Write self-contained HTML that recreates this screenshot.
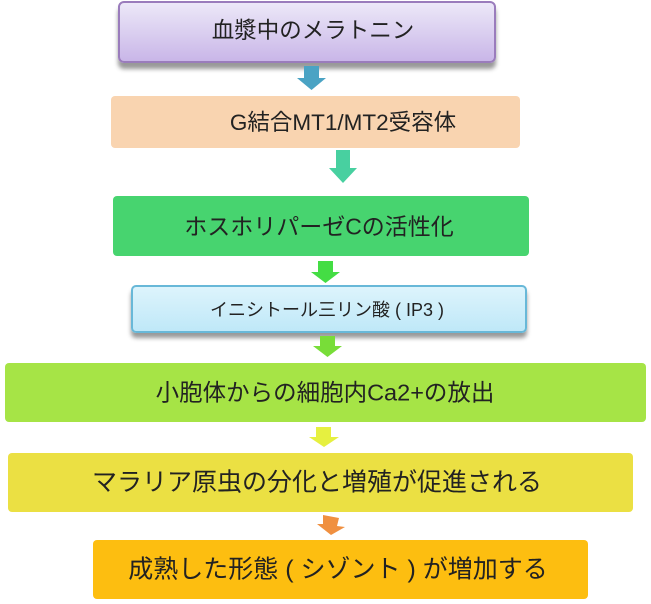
<!DOCTYPE html>
<html><head><meta charset="utf-8"><style>
body{margin:0;width:651px;height:604px;background:#fff;position:relative;overflow:hidden;font-family:"Liberation Sans","Noto Sans CJK JP",sans-serif;color:#222}
.b{position:absolute;box-sizing:border-box}
.t{position:absolute;white-space:nowrap;transform:translate(-50%,-50%);line-height:1}
.a{position:absolute}
</style></head><body>
<div class="b" style="left:118px;top:1px;width:378px;height:62px;border:2px solid #9a7cbc;border-radius:6px;background:linear-gradient(#ece8f8,#c9b6e8);box-shadow:0 6px 4px #999"></div>
<div class="t" style="left:313px;top:31px;font-size:22.5px">血漿中のメラトニン</div>
<div class="b" style="left:111px;top:96px;width:409px;height:52px;border-radius:4px;background:#f9d4b0"></div>
<div class="t" style="left:343px;top:123px;font-size:22.5px">G結合MT1/MT2受容体</div>
<div class="b" style="left:113px;top:196px;width:416px;height:60px;border-radius:4px;background:#47d46f"></div>
<div class="t" style="left:319px;top:227px;font-size:23px">ホスホリパーゼCの活性化</div>
<div class="b" style="left:131px;top:285px;width:396px;height:48px;border:2px solid #68b8d8;border-radius:5px;background:linear-gradient(#ddf4fc,#bfe8f8);box-shadow:0 5px 4px #999"></div>
<div class="t" style="left:327px;top:310px;font-size:18px">イニシトール三リン酸 ( IP3 )</div>
<div class="b" style="left:5px;top:363px;width:641px;height:59px;border-radius:4px;background:#a6e446"></div>
<div class="t" style="left:325px;top:393px;font-size:23.5px">小胞体からの細胞内Ca2+の放出</div>
<div class="b" style="left:8px;top:453px;width:625px;height:59px;border-radius:4px;background:#ebe043"></div>
<div class="t" style="left:317px;top:483px;font-size:25px">マラリア原虫の分化と増殖が促進される</div>
<div class="b" style="left:93px;top:540px;width:495px;height:59px;border-radius:4px;background:#fdbe10"></div>
<div class="t" style="left:338px;top:570px;font-size:25px">成熟した形態 ( シゾント ) が増加する</div>
<svg class="a" style="left:0;top:0" width="651" height="604">
<polygon points="304,66 319,66 319,78 326,78 311.5,90 297,78 304,78" fill="#4aa3c4"/>
<polygon points="336,150 350,150 350,168 357,168 343,183 329,168 336,168" fill="#48d0a0"/>
<polygon points="318,261 333,261 333,272 340,272 325.5,283 311,272 318,272" fill="#44dd44"/>
<polygon points="320,336 335,336 335,346 342,346 327.5,357 313,346 320,346" fill="#78dd38"/>
<polygon points="316,427 331,427 331,437 339,437 324,447 309,437 316,437" fill="#e6f040"/>
<polygon points="323,515 339,518 337,526 345,527 331,535 317,524 323,524" fill="#f09040"/>
</svg>
</body></html>
